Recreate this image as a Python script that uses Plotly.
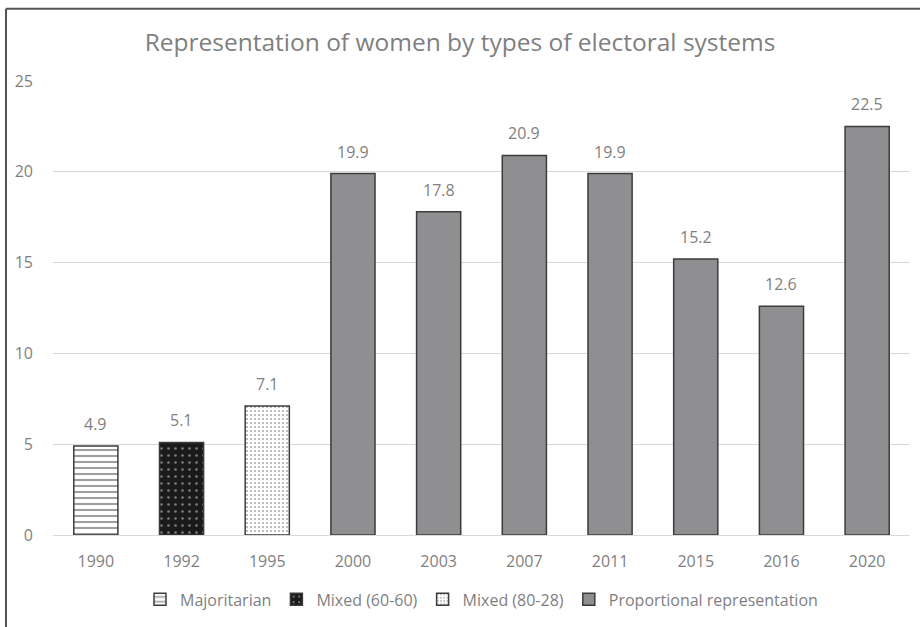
import plotly.graph_objects as go

years = ["1990", "1992", "1995", "2000", "2003", "2007", "2011", "2015", "2016", "2020"]
values = [4.9, 5.1, 7.1, 19.9, 17.8, 20.9, 19.9, 15.2, 12.6, 22.5]
systems = ["Majoritarian", "Mixed (60-60)", "Mixed (80-28)",
           "Proportional representation", "Proportional representation",
           "Proportional representation", "Proportional representation",
           "Proportional representation", "Proportional representation",
           "Proportional representation"]
series_names = ["Majoritarian", "Mixed (60-60)", "Mixed (80-28)", "Proportional representation"]

TXT = "#7f7f7f"

styles = {
    "Majoritarian": dict(color="white", pattern=dict(shape="-", fgcolor="#404040", bgcolor="white", size=6, solidity=0.35)),
    "Mixed (60-60)": dict(color="#1a1a1a", pattern=dict(shape=".", fgcolor="#d8d8d8", bgcolor="#1a1a1a", size=7, solidity=0.12)),
    "Mixed (80-28)": dict(color="white", pattern=dict(shape=".", fgcolor="#505050", bgcolor="white", size=4, solidity=0.2)),
    "Proportional representation": dict(color="#8f8f92", pattern=None),
}

fig = go.Figure()
for name in series_names:
    xs = [y for y, s in zip(years, systems) if s == name]
    vs = [v for v, s in zip(values, systems) if s == name]
    st = styles[name]
    marker = dict(color=st["color"], line=dict(color="#3c3c3c", width=1.5))
    if st["pattern"]:
        marker["pattern"] = st["pattern"]
    fig.add_trace(go.Bar(x=xs, y=vs, name=name, marker=marker, hoverinfo="x+y"))

# data labels placed at each category index on the category axis
annotations = [
    dict(x=i, y=v, xref="x", yref="y", text=f"{v:.1f}", showarrow=False,
         yanchor="bottom", yshift=9, font=dict(size=16, color=TXT))
    for i, v in enumerate(values)
]

W, H = 920, 627
ml, mr, mt, mb = 53, 10, 81, 88
pw, ph = W - ml - mr, H - mt - mb

def px(x):
    return (x - ml) / pw

def py(y):
    return (H - mb - y) / ph

fig.update_layout(
    width=W, height=H,
    margin=dict(l=ml, r=mr, t=mt, b=mb),
    paper_bgcolor="white", plot_bgcolor="white",
    barmode="relative", bargap=0.485,
    font=dict(family="Open Sans, Calibri, sans-serif", color=TXT, size=16),
    title=dict(text="Representation of women by types of electoral systems",
               x=0.5, xanchor="center", y=1 - 42 / H, yanchor="middle",
               font=dict(size=24.5, color=TXT)),
    xaxis=dict(type="category", categoryorder="array", categoryarray=years,
               range=[-0.5, len(years) - 0.5],
               showline=True, linecolor="#d9d9d9", linewidth=1, ticks="",
               tickfont=dict(size=16, color=TXT), showgrid=False,
               ticklabelstandoff=12),
    yaxis=dict(range=[0, 25], dtick=5, showgrid=True, gridcolor="#d9d9d9",
               zeroline=False, ticks="", tickfont=dict(size=16, color=TXT),
               ticklabelstandoff=19),
    legend=dict(orientation="h", x=0.5, xanchor="center", y=py(604), yanchor="middle",
                font=dict(size=16, color=TXT), itemwidth=30,
                traceorder="normal"),
    showlegend=True,
    annotations=annotations,
    shapes=[
        dict(type="line", xref="paper", yref="paper", x0=px(6), x1=px(W + 5),
             y0=py(8), y1=py(8), line=dict(color="#555555", width=2)),
        dict(type="line", xref="paper", yref="paper", x0=px(6), x1=px(6),
             y0=py(8), y1=py(H + 5), line=dict(color="#555555", width=2)),
    ],
)

fig.write_html("out.html")
